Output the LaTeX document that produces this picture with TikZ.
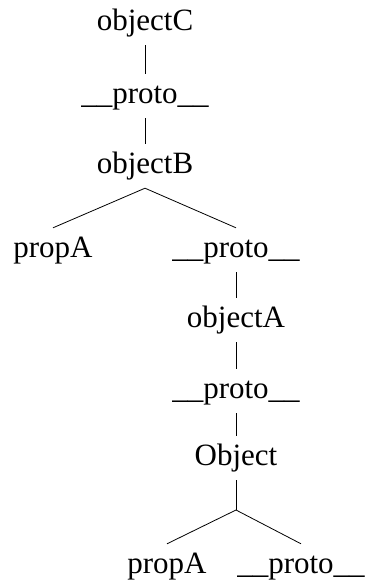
\documentclass[tikz,border=0pt]{standalone}
\usepackage{fontspec}
\setmainfont{Liberation Serif}
\usetikzlibrary{positioning}

\begin{document}
\begin{tikzpicture}[x=1pt, y=-1pt,
    entry/.style={font=\fontsize{31}{37}\selectfont, inner sep=8pt,
        text height=21pt, text depth=7pt, anchor=base},
    link/.style={black, line width=0.8pt}]
    % Frame of the picture
    \useasboundingbox (0,0) rectangle (365,581);

    % Prototype chain
    \node[entry] (objC) at (145,30) {objectC};
    \node[entry] (protoC) at (145,103) {\_\_proto\_\_};
    \node[entry] (objB) at (145,173) {objectB};
    \node[entry] (propB) at (53,257) {propA};
    \node[entry] (protoB) at (236,257) {\_\_proto\_\_};
    \node[entry] (objA) at (236,327) {objectA};
    \node[entry] (protoA) at (236,398) {\_\_proto\_\_};
    \node[entry] (objRoot) at (236,465) {Object};
    \node[entry] (propRoot) at (167,573) {propA};
    \node[entry] (protoRoot) at (301,573) {\_\_proto\_\_};
    \coordinate (fork) at (236,510);

    % Links
    \draw[link] (objC) -- (protoC);
    \draw[link] (protoC) -- (objB);
    \draw[link] (objB.south) -- (propB.north);
    \draw[link] (objB.south) -- (protoB.north);
    \draw[link] (protoB) -- (objA);
    \draw[link] (objA) -- (protoA);
    \draw[link] (protoA) -- (objRoot);
    \draw[link] (objRoot) -- (fork);
    \draw[link] (fork) -- (propRoot.north);
    \draw[link] (fork) -- (protoRoot.north);
\end{tikzpicture}
\end{document}
